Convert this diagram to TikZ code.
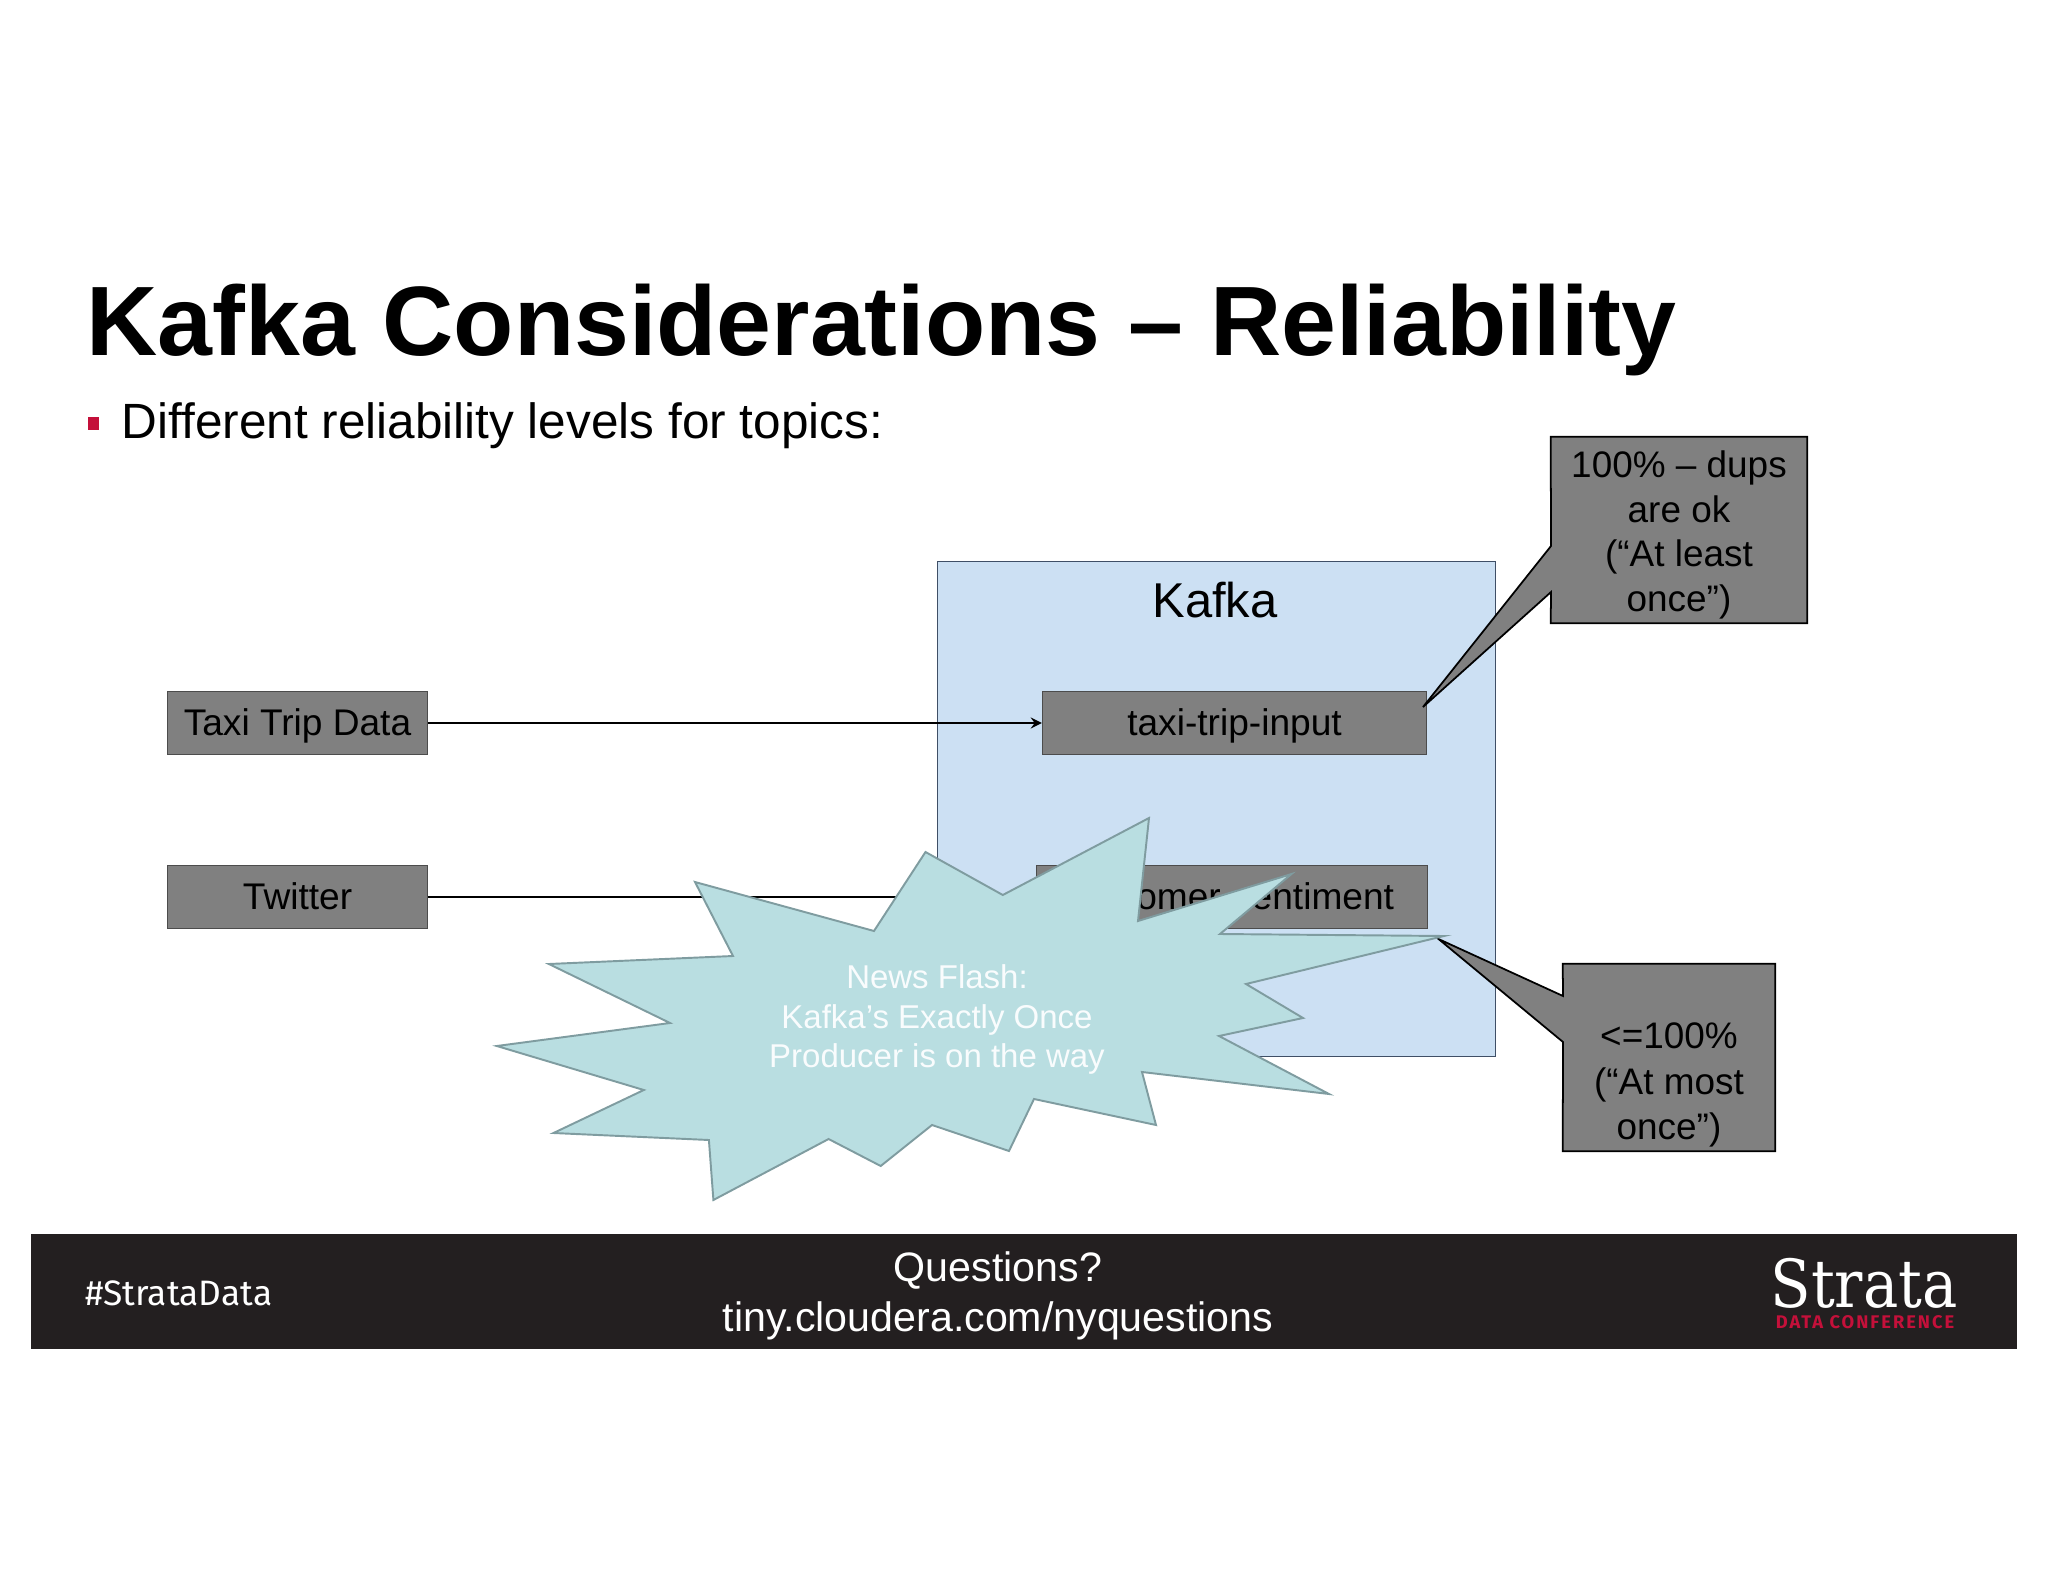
\documentclass[tikz,border=0pt]{standalone}
\usepackage{fontspec}
\setmainfont{Liberation Sans}
\newfontfamily\tagfont{Fira Sans}
\newfontfamily\confont[LetterSpace=11]{Fira Sans}
\newfontfamily\logofont{DejaVu Serif}
\definecolor{boxgray}{HTML}{808080}
\definecolor{kafkablue}{HTML}{CCE0F3}
\definecolor{kafkaline}{HTML}{3F4F66}
\definecolor{burstfill}{HTML}{B9DEE1}
\definecolor{burstline}{HTML}{7F9CA0}
\definecolor{bandblack}{HTML}{231F20}
\definecolor{stratared}{HTML}{C4103A}
\newcommand{\fsize}[2]{\fontsize{#1}{#2}\selectfont}
\tikzset{
    topicbox/.style={draw=black!70,fill=boxgray,line width=.35pt,inner sep=0pt,text depth=.6pt,font=\fsize{10.55}{12}},
    calloutbox/.style={inner sep=0pt},
    calloutline/.style={draw=black,fill=boxgray,line width=.5pt,line join=miter},
    callouttext/.style={align=center,inner sep=0pt,font=\fsize{10.5}{12.63}},
    bandtext/.style={text=white,inner sep=0pt},
}
\begin{document}
\begin{tikzpicture}[x=.01cm,y=-.01cm]
    \useasboundingbox[fill=white] (0,0) rectangle (2048,1582);
    % heading
    \node[anchor=base west,inner sep=0pt,font=\bfseries\fsize{28.05}{30}](title) at (86,355){Kafka Considerations -- Reliability};
    \node[fill=stratared,minimum width=.11cm,minimum height=.13cm,inner sep=0pt](bullet) at (93.5,423.5){};
    \node[anchor=base west,inner sep=0pt,font=\fsize{14.08}{16}](topics) at (121,438){Different reliability levels for topics:};
    % kafka box
    \node[draw=kafkaline,fill=kafkablue,line width=.3pt,minimum width=5.58cm,minimum height=4.95cm,inner sep=0pt](kafka) at (1216.5,809){};
    \node[inner sep=0pt,font=\fsize{13.9}{16}](kafkaname) at (1215,600){Kafka};
    % sources and topics
    \node[topicbox,minimum width=2.6cm,minimum height=.63cm](taxi) at (297.5,723){Taxi Trip Data};
    \node[topicbox,minimum width=2.6cm,minimum height=.63cm](twitter) at (297.5,897){Twitter};
    \node[topicbox,minimum width=3.84cm,minimum height=.63cm](taxiinput) at (1234.5,723){taxi-trip-input};
    \node[topicbox,minimum width=3.91cm,minimum height=.63cm](sentiment) at (1232,897){Customer-sentiment\kern.1cm};
    \draw[-stealth,line width=.4pt](taxi)--(taxiinput);
    \draw[line width=.4pt](twitter)--(sentiment);
    % callouts
    \node[calloutbox,minimum width=2.55cm,minimum height=1.85cm](dupsbox) at (1679,530){};
    \coordinate (dupstip) at (1423,707);
    \draw[calloutline](dupsbox.north west)--(dupsbox.north east)--(dupsbox.south east)--(dupsbox.south west)
        --(1551,592)--(dupstip)--(1551,546)--cycle;
    \node[callouttext](dupstext) at (1679,535){100\% -- dups\\are ok\\(“At least\\once”)};
    \node[calloutbox,minimum width=2.11cm,minimum height=1.86cm](mostbox) at (1669,1057.5){};
    \coordinate (mosttip) at (1438.5,939);
    \draw[calloutline](mostbox.north west)--(mostbox.north east)--(mostbox.south east)--(mostbox.south west)
        --(1563,1042)--(mosttip)--(1563,996)--cycle;
    \node[callouttext,font=\fsize{10.5}{13}](mosttext) at (1669,1085){<=100\%\\(“At most\\once”)};
    % news flash burst
    \draw[fill=burstfill,draw=burstline,line width=.55pt]
        (1149,818)--(1138,921)--(1291.5,874)--(1220,934)--(1444,936)--(1246,984)--(1303,1018)--(1219,1036)
        --(1329,1094)--(1142,1072)--(1156,1125)--(1034,1099)--(1009,1151)--(932,1125)--(880.7,1166)--(828.6,1139)
        --(713.4,1200)--(708.9,1140)--(553.5,1133)--(643.8,1090)--(496.8,1046)--(670,1023)--(548.9,964)--(733,956)
        --(695,882)--(874,931)--(925.5,852)--(1002.8,895)--cycle;
    \node[align=center,text=white!92!burstfill,inner sep=0pt,font=\fsize{9.38}{11.2}](newsflash) at (937,1019.5){News Flash:\\Kafka’s Exactly Once\\Producer is on the way};
    % footer band
    \node[fill=bandblack,minimum width=19.84cm,minimum height=1.14cm,inner sep=0pt](band) at (1024,1291.5){};
    \node[bandtext,anchor=west,font=\tagfont\fsize{10.05}{12}](hashtag) at (85,1293){\#StrataData};
    \node[bandtext,align=center,font=\fsize{11.7}{14.2}](questions) at (998,1295.5){Questions?\\tiny.cloudera.com/nyquestions};
    \node[bandtext,anchor=base,font=\logofont\fsize{16.85}{18}](strata) at (1864,1307){\scalebox{1}[1.12]{Strata}};
    \node[inner sep=0pt,text=stratared,anchor=base,font=\confont\bfseries\fsize{5.2}{7}](conference) at (1865,1328){DATA CONFERENCE};
\end{tikzpicture}
\end{document}
